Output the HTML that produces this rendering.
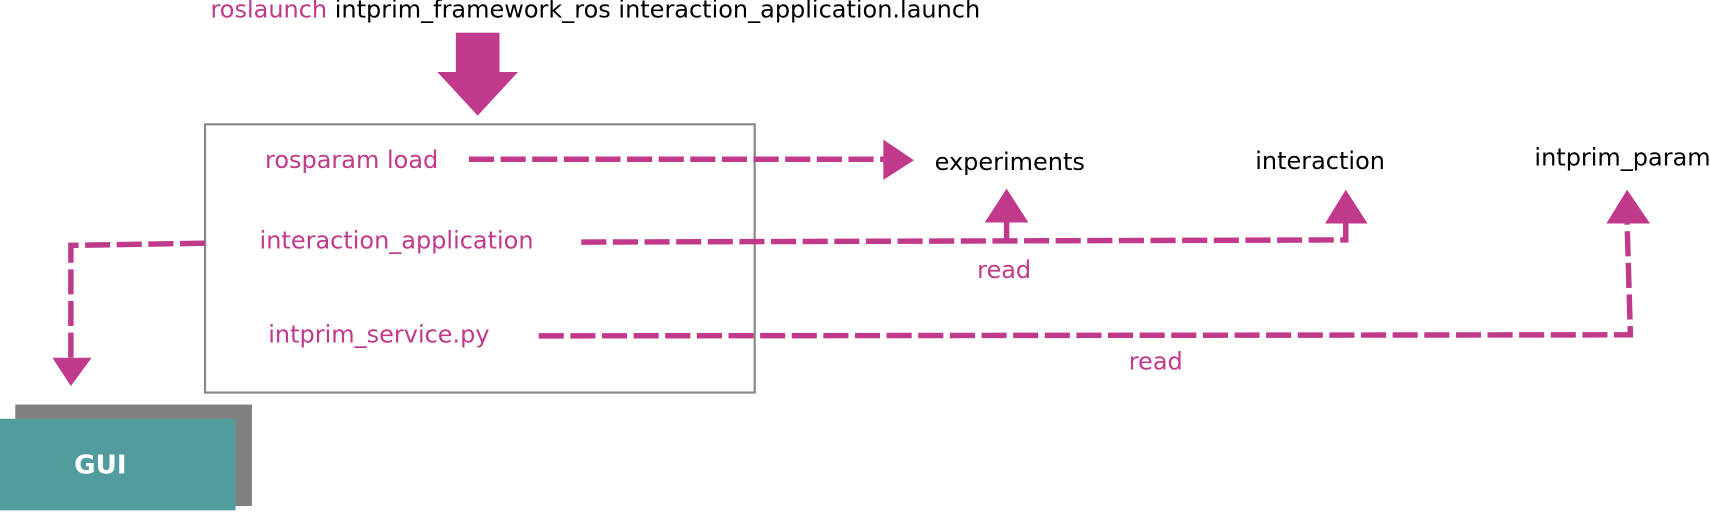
<!DOCTYPE html>
<html><head><meta charset="utf-8"><style>
html,body{margin:0;padding:0;background:#fff;width:1710px;height:512px;overflow:hidden}
svg{display:block}
text{font-family:"DejaVu Sans","Liberation Sans",sans-serif;font-size:22px}
.m{fill:#c0398a}
.d{fill:none;stroke:#c0398a;stroke-width:5;stroke-dasharray:23 6}
</style></head><body>
<svg width="1710" height="512" viewBox="0 0 1568 469.5" preserveAspectRatio="none">
<text x="193" y="16"><tspan class="m">roslaunch</tspan> intprim_framework_ros interaction_application.launch</text>
<rect x="418" y="30" width="40" height="37" fill="#c0398a"/>
<polygon points="401,66 475,66 438,106" fill="#c0398a"/>
<rect x="188" y="114" width="504" height="246" fill="none" stroke="#888" stroke-width="2"/>
<text class="m" x="243" y="154">rosparam load</text>
<text class="m" x="238" y="228">interaction_application</text>
<text class="m" x="246" y="314">intprim_service.py</text>
<path class="d" d="M430,146 L812,146"/>
<polygon points="810,128 838,147 810,165" fill="#c0398a"/>
<text x="857" y="156">experiments</text>
<text x="1151" y="155">interaction</text>
<text x="1407" y="152">intprim_param</text>
<path class="d" d="M533,222 L1234,220 L1234,205"/>
<path class="d" d="M923,222 L923,204" style="stroke-dasharray:none"/>
<polygon points="903,204 943,204 923,173" fill="#c0398a"/>
<polygon points="1215,205 1254,205 1234,174" fill="#c0398a"/>
<text class="m" x="896" y="255">read</text>
<path class="d" d="M494,308 L1495,307 L1492,205"/>
<polygon points="1473,205 1513,205 1492,174" fill="#c0398a"/>
<text class="m" x="1035" y="339">read</text>
<path class="d" d="M188,223 L65,225 L65,330"/>
<polygon points="48,328 84,328 65,354" fill="#c0398a"/>
<rect x="14" y="371" width="217" height="93" fill="#808080"/>
<rect x="0" y="384" width="216" height="84" fill="#539c9d"/>
<text x="68" y="434" fill="#fff" style="font-weight:bold;font-size:24px">GUI</text>
</svg>
</body></html>
